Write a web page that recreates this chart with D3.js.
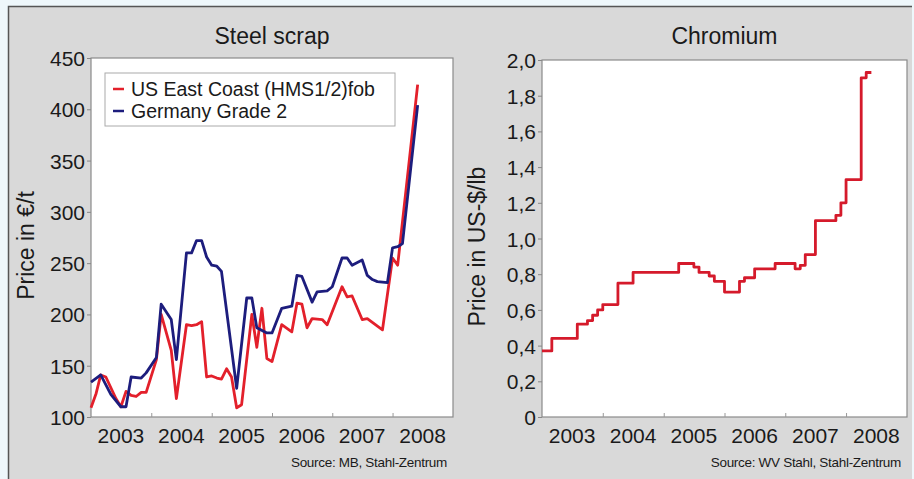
<!DOCTYPE html>
<html>
<head>
<meta charset="utf-8">
<script src="https://cdn.jsdelivr.net/npm/d3@7"></script>
<style>
body{margin:0;background:#eef7fb;}
svg text{font-family:"Liberation Sans",Arial,sans-serif;fill:#1a1a1a;}
</style>
</head>
<body>
<svg></svg>
<script>
var width=914;
var height=479;

// steel scrap, EUR/t
var usDates=["2003-01","2003-02","2003-03","2003-04","2003-06","2003-07","2003-08","2003-09","2003-10","2003-11","2003-12",
	"2004-02","2004-03","2004-05","2004-06","2004-08","2004-09","2004-10","2004-11","2004-12",
	"2005-01","2005-02","2005-03","2005-04","2005-05","2005-06","2005-07","2005-09","2005-10","2005-11","2005-12",
	"2006-01","2006-03","2006-05","2006-06","2006-07","2006-08","2006-09","2006-11","2006-12",
	"2007-03","2007-04","2007-05","2007-07","2007-08","2007-11","2008-01","2008-02","2008-06"];
var usValues=[109,123,141,139,118,110,125,121,120,124,124,
	156,200,165,118,190,189,190,193,139,
	140,138,137,147,139,109,112,200,168,206,157,
	154,190,183,211,210,187,196,195,190,
	227,217,218,195,196,185,255,248,424];

var deDates=["2003-01","2003-03","2003-05","2003-07","2003-08","2003-09","2003-11","2003-12",
	"2004-02","2004-03","2004-05","2004-06","2004-08","2004-09","2004-10","2004-11","2004-12",
	"2005-01","2005-02","2005-03","2005-06","2005-08","2005-09","2005-10","2005-12",
	"2006-01","2006-03","2006-05","2006-06","2006-07","2006-09","2006-10","2006-12",
	"2007-01","2007-03","2007-04","2007-05","2007-07","2007-08","2007-09","2007-10","2007-12",
	"2008-01","2008-02","2008-03","2008-06"];
var deValues=[134,141,122,110,110,139,138,143,
	158,210,195,156,260,260,272,272,256,
	248,247,242,128,216,216,187,182,
	182,206,208,238,237,212,222,223,
	227,255,255,248,253,238,234,232,231,
	265,266,269,404];

// chromium, US-$/lb (step starts)
var crDates=["2003-01","2003-03","2003-08","2003-10","2003-11","2003-12","2004-01","2004-04","2004-07",
	"2005-04","2005-07","2005-08","2005-10","2005-11","2006-01","2006-04","2006-05","2006-07","2006-11",
	"2007-03","2007-04","2007-05","2007-07","2007-11","2007-12","2008-01","2008-04","2008-05","2008-06"];
var crValues=[0.37,0.44,0.52,0.54,0.57,0.60,0.63,0.75,0.81,
	0.86,0.84,0.81,0.79,0.76,0.70,0.76,0.78,0.83,0.86,
	0.83,0.85,0.91,1.10,1.13,1.20,1.33,1.90,1.93,1.93];

var years=[2003,2004,2005,2006,2007,2008];
var scrapTicks=[100,150,200,250,300,350,400,450];
var crTicks=[0,0.2,0.4,0.6,0.8,1.0,1.2,1.4,1.6,1.8,2.0];

var parse=d3.timeParse("%Y-%m");

var svg=d3.select("svg")
	.attr("width",width)
	.attr("height",height);

// grey panel
svg.append("rect")
	.attr("x",8).attr("y",6)
	.attr("width",width-10).attr("height",height)
	.attr("fill","#d9d9d9");
svg.append("path")
	.attr("d","M8.5,"+height+"V6.5H"+(width-2))
	.attr("fill","none")
	.attr("stroke","#555")
	.attr("stroke-width",1.5);

function drawpanel(left,right,top,bottom,ydomain,yticks,yfmt,title,ylabel,source)
{
	var x=d3.scaleTime()
		.domain([new Date(2003,0,1),new Date(2009,0,1)])
		.range([left,right]);
	var y=d3.scaleLinear()
		.domain(ydomain)
		.range([bottom,top]);

	svg.append("rect")
		.attr("x",left).attr("y",top)
		.attr("width",right-left).attr("height",bottom-top)
		.attr("fill","#fff")
		.attr("stroke","#8a8a8a")
		.attr("stroke-width",1.2);

	var yaxis=d3.axisLeft(y)
		.tickValues(yticks)
		.tickSize(4)
		.tickPadding(2)
		.tickFormat(yfmt);
	var gy=svg.append("g")
		.attr("transform","translate("+left+",0)")
		.call(yaxis);
	gy.select(".domain").remove();
	gy.selectAll("line").attr("stroke","#888");
	gy.selectAll("text")
		.style("font-size","21px")
		.attr("dy","0.36em");

	// year boundary marks
	var gx=svg.append("g")
		.attr("transform","translate(0,"+bottom+")")
		.call(d3.axisBottom(x)
			.tickValues(years.slice(1).map(d => new Date(d,0,1)))
			.tickSize(-4)
			.tickFormat(""));
	gx.select(".domain").remove();
	gx.selectAll("line").attr("stroke","#999");

	// year labels centred in the year
	svg.selectAll(null)
		.data(years)
		.enter()
		.append("text")
		.attr("x",d => x(new Date(d,6,1)))
		.attr("y",bottom+26)
		.style("text-anchor","middle")
		.style("font-size","21px")
		.text(d => d);

	svg.append("text")
		.attr("x",(left+right)/2)
		.attr("y",44)
		.style("text-anchor","middle")
		.style("font-size","23px")
		.text(title);

	svg.append("text")
		.attr("transform","translate("+(left-57)+","+((top+bottom)/2+8)+") rotate(-90)")
		.style("text-anchor","middle")
		.style("font-size","23px")
		.text(ylabel);

	svg.append("text")
		.attr("x",right-6)
		.attr("y",height-12)
		.style("text-anchor","end")
		.style("font-size","13.5px")
		.style("letter-spacing","-0.3px")
		.text(source);

	return {x:x,y:y};
}

function drawline(sc,dates,values,color,curve)
{
	var pts=dates.map((d,i) => [parse(d),values[i]]);
	var line=d3.line()
		.x(d => sc.x(d[0]))
		.y(d => sc.y(d[1]))
		.curve(curve);
	svg.append("path")
		.datum(pts)
		.attr("d",line)
		.attr("fill","none")
		.attr("stroke",color)
		.attr("stroke-width",2.8)
		.attr("stroke-linejoin","round");
}

var left=drawpanel(91,453,58,417,[100,450],scrapTicks,d3.format("d"),
	"Steel scrap","Price in €/t","Source: MB, Stahl-Zentrum");

var comma=d => d===0 ? "0" : d3.format(".1f")(d).replace(".",",");
var right=drawpanel(542,907,60,417,[0,2],crTicks,comma,
	"Chromium","Price in US-$/lb","Source: WV Stahl, Stahl-Zentrum");

drawline(left,usDates,usValues,"#e3202b",d3.curveLinear);
drawline(left,deDates,deValues,"#1d1d7d",d3.curveLinear);
drawline(right,crDates,crValues,"#d51a2b",d3.curveStepAfter);

// legend
var legend=svg.append("g");
legend.append("rect")
	.attr("x",105).attr("y",73)
	.attr("width",290).attr("height",53)
	.attr("fill","#fff")
	.attr("stroke","#aaa");
var items=[["US East Coast (HMS1/2)fob","#e3202b"],["Germany Grade 2","#1d1d7d"]];
items.forEach(function(d,i){
	legend.append("line")
		.attr("x1",113).attr("x2",124)
		.attr("y1",89+i*22).attr("y2",89+i*22)
		.attr("stroke",d[1])
		.attr("stroke-width",2.5);
	legend.append("text")
		.attr("x",131)
		.attr("y",96+i*22)
		.style("font-size","19.5px")
		.text(d[0]);
});
</script>
</body>
</html>
